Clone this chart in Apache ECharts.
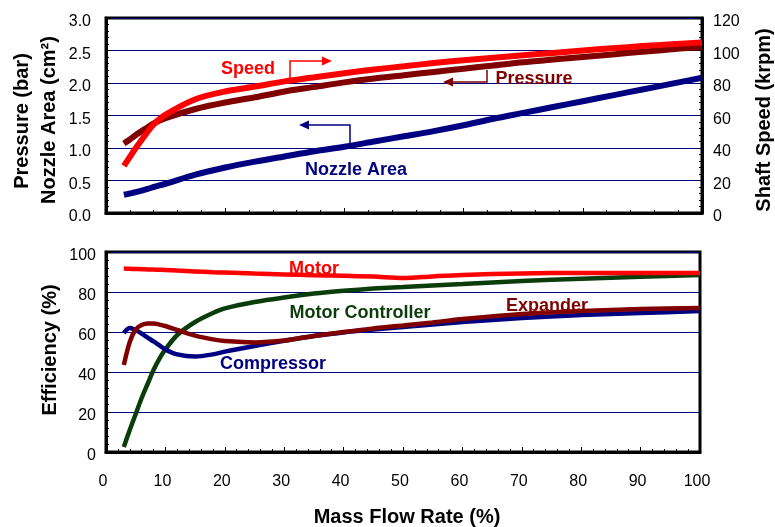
<!DOCTYPE html>
<html><head><meta charset="utf-8">
<script src="https://cdn.jsdelivr.net/npm/echarts@6/dist/echarts.min.js"></script>
<style>html,body{margin:0;padding:0;background:#fff}#c{width:775px;height:527px}</style>
</head><body><div id="c"></div>
<script>
// ---- Data ----
const topFlow = [3,4,5,7,8,10,15,20,25,30,35,40,45,50,55,60,65,70,75,80,85,90,95,100];
const nozzleArea = [0.28,0.30,0.32,0.37,0.40,0.45,0.59,0.70,0.79,0.87,0.95,1.02,1.10,1.18,1.26,1.35,1.45,1.54,1.63,1.72,1.81,1.9,1.99,2.08];
const pressure = [1.07,1.13,1.2,1.32,1.38,1.46,1.6,1.7,1.78,1.87,1.94,2.01,2.07,2.12,2.17,2.22,2.27,2.32,2.36,2.4,2.44,2.48,2.52,2.55];
const shaftSpeed = [29,34.5,40,50,54.5,60.5,70,74.8,77.8,81,83.5,86,88.3,90.3,92.3,94,95.6,97.1,98.5,100,101.4,102.7,103.9,105];

const effFlow = [3,4,5,6,7,8,9,10,12,15,18,20,25,30,35,40,45,50,55,60,70,80,90,100];
const motorEff = [91.7,91.6,91.5,91.4,91.3,91.2,91.1,91,90.7,90.3,89.9,89.7,89.2,88.8,88.4,88.1,87.7,87,87.8,88.5,89.3,89.5,89.5,89.5];
const controllerEff = [2.5,11,19,27,34,41,46.7,51.3,58.5,65,69.5,71.8,75,77.3,79.2,80.6,81.7,82.5,83.3,84,85.5,86.6,87.6,88.5];
const compressorEff = [59.5,62,61,59.2,57.2,55.3,53.3,51.3,48.8,47.7,48.8,50.2,53,55.6,58,59.8,61.2,62.5,63.8,65,67,68.5,69.5,70.5];
const expanderEff = [43.5,55,61.3,63.5,64.2,64.3,63.7,63,61,58.2,56.3,55.5,54.8,55.7,58,60,61.8,63.2,64.8,66.5,69,70.5,71.5,72];

const xTicks = [0,10,20,30,40,50,60,70,80,90,100];

const pair = (xs, ys) => xs.map((x, i) => [x, ys[i]]);

const FONT = 'Liberation Sans, Arial, sans-serif';
const GRIDC = '#000080';
const MAROON = '#800000';
const NAVY = '#000080';
const GREEN = '#0b3d0b';

const chart = echarts.init(document.getElementById('c'));

function valAxis(extra) {
  return Object.assign({
    type: 'value',
    axisLine: {show: true, lineStyle: {color: '#000', width: 3}},
    axisTick: {show: true, inside: true, length: 5, lineStyle: {color: '#000', width: 1}},
    minorTick: {show: true, splitNumber: 5, length: 3, lineStyle: {color: '#000', width: 1}},
    axisLabel: {color: '#000', fontFamily: FONT, fontSize: 16},
    splitLine: {show: false}
  }, extra);
}
const yLab = (margin, fmt) => ({
  color: '#000', fontFamily: FONT, fontSize: 16, margin: margin,
  formatter: v => '{a|' + fmt(v) + '}',
  rich: {a: {color: '#000', fontFamily: FONT, fontSize: 16, padding: [8, 0, 0, 0]}}
});

const option = {
  animation: false,
  backgroundColor: '#fff',
  grid: [
    {left: 106, right: 73, top: 18, height: 195, show: true, borderColor: '#000', borderWidth: 3, backgroundColor: 'transparent'},
    {left: 106, right: 75, top: 252, height: 200, show: true, borderColor: '#000', borderWidth: 3, backgroundColor: 'transparent'}
  ],
  xAxis: [
    valAxis({gridIndex: 0, min: 0, max: 100, interval: 20, axisLabel: {show: false}}),
    valAxis({gridIndex: 1, min: 0, max: 100, interval: 10,
      axisLabel: {color: '#000', fontFamily: FONT, fontSize: 16, margin: 22, padding: [0, 6, 0, 0],
        formatter: v => xTicks.includes(v) ? String(v) : ''}})
  ],
  yAxis: [
    valAxis({gridIndex: 0, min: 0, max: 3, interval: 0.5,
      axisLabel: yLab(15, v => v.toFixed(1)),
      splitLine: {show: true, lineStyle: {color: GRIDC, width: 1}}}),
    valAxis({gridIndex: 0, position: 'right', min: 0, max: 120, interval: 20,
      axisLabel: yLab(11, v => String(v))}),
    valAxis({gridIndex: 1, min: 0, max: 100, interval: 20,
      axisLabel: yLab(10, v => String(v)),
      splitLine: {show: true, lineStyle: {color: GRIDC, width: 1}}})
  ],
  series: [
    {name: 'Nozzle Area', type: 'line', xAxisIndex: 0, yAxisIndex: 0, data: pair(topFlow, nozzleArea),
      smooth: 0.3, showSymbol: false, lineStyle: {color: NAVY, width: 6}},
    {name: 'Pressure', type: 'line', xAxisIndex: 0, yAxisIndex: 0, data: pair(topFlow, pressure),
      smooth: 0.3, showSymbol: false, lineStyle: {color: MAROON, width: 6}},
    {name: 'Speed', type: 'line', xAxisIndex: 0, yAxisIndex: 1, data: pair(topFlow, shaftSpeed),
      smooth: 0.3, showSymbol: false, lineStyle: {color: '#ff0000', width: 6}},
    {name: 'Motor Controller', type: 'line', xAxisIndex: 1, yAxisIndex: 2, data: pair(effFlow, controllerEff),
      smooth: 0.3, showSymbol: false, lineStyle: {color: GREEN, width: 4.5}},
    {name: 'Compressor', type: 'line', xAxisIndex: 1, yAxisIndex: 2, data: pair(effFlow, compressorEff),
      smooth: 0.3, showSymbol: false, lineStyle: {color: NAVY, width: 4.5}},
    {name: 'Expander', type: 'line', xAxisIndex: 1, yAxisIndex: 2, data: pair(effFlow, expanderEff),
      smooth: 0.3, showSymbol: false, lineStyle: {color: MAROON, width: 4.5}},
    {name: 'Motor', type: 'line', xAxisIndex: 1, yAxisIndex: 2, data: pair(effFlow, motorEff),
      smooth: 0.3, showSymbol: false, lineStyle: {color: '#ff0000', width: 4.5}}
  ],
  graphic: []
};

function txt(text, x, y, color, size, rot) {
  return {type: 'text', x: x, y: y, rotation: rot || 0, z: 100,
    style: {text: text, fill: color, font: 'bold ' + size + 'px ' + FONT, textAlign: 'center', textVerticalAlign: 'middle'}};
}
function arrow(points, head, color) {
  return [
    {type: 'polyline', z: 100, shape: {points: points}, style: {stroke: color, lineWidth: 1.5, fill: null}},
    {type: 'polygon', z: 100, shape: {points: head}, style: {fill: color}}
  ];
}
const R90 = Math.PI / 2;
option.graphic = [
  txt('Speed', 248, 69, '#ff0000', 18),
  txt('Pressure', 534, 79, MAROON, 18),
  txt('Nozzle Area', 356, 170, NAVY, 18),
  txt('Motor', 314, 269, '#ff0000', 18),
  txt('Motor Controller', 360, 313, GREEN, 18),
  txt('Compressor', 273, 364, NAVY, 18),
  txt('Expander', 547, 306, MAROON, 18),
  txt('Pressure (bar)', 22, 121, '#000', 20, R90),
  txt('Nozzle Area (cm\u00B2)', 49, 120, '#000', 20, R90),
  txt('Efficiency (%)', 50, 350, '#000', 20, R90),
  txt('Shaft Speed (krpm)', 764, 120, '#000', 20, R90),
  txt('Mass Flow Rate (%)', 407, 517, '#000', 20),
  ...arrow([[290,78],[290,61],[323,61]], [[322,56.5],[332,61],[322,65.5]], '#ff0000'),
  ...arrow([[487,70],[487,82],[452,82]], [[453,77.5],[443,82],[453,86.5]], MAROON),
  ...arrow([[350,143],[350,125],[308,125]], [[309,120.5],[299,125],[309,129.5]], NAVY)
];

chart.setOption(option);
</script></body></html>
